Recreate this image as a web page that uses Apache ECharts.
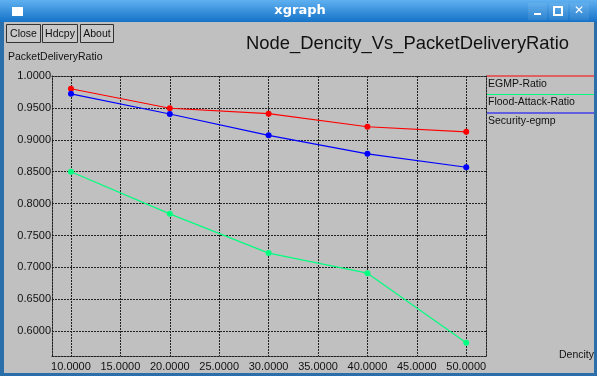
<!DOCTYPE html>
<html>
<head>
<meta charset="utf-8">
<script src="https://cdn.jsdelivr.net/npm/echarts@6/dist/echarts.min.js"></script>
<style>
html,body{margin:0;padding:0;background:#c0c0c0;}
#c{width:597px;height:376px;}
</style>
</head>
<body>
<div id="c"></div>
<script>
// ---- data ----
var densities = [10, 20, 30, 40, 50];
var seriesNames = ["EGMP-Ratio", "Flood-Attack-Ratio", "Security-egmp"];
var egmpRatio = [0.980, 0.9495, 0.941, 0.9205, 0.9125];
var floodAttackRatio = [0.850, 0.784, 0.7225, 0.691, 0.582];
var securityEgmp = [0.972, 0.9405, 0.907, 0.878, 0.857];
var xTicks = [10, 15, 20, 25, 30, 35, 40, 45, 50];
var yTicks = [0.60, 0.65, 0.70, 0.75, 0.80, 0.85, 0.90, 0.95, 1.00];
var chartTitle = "Node_Dencity_Vs_PacketDeliveryRatio";
var yName = "PacketDeliveryRatio";
var xName = "Dencity";
var windowTitle = "xgraph";
var buttons = ["Close", "Hdcpy", "About"];

var colors = ["#ff0000", "#00ff7f", "#0000ff"];
var values = [egmpRatio, floodAttackRatio, securityEgmp];
var FONT = "Liberation Sans";

function pairs(xs, ys) { return xs.map(function (x, i) { return [x, ys[i]]; }); }

var chart = echarts.init(document.getElementById('c'), null, {renderer: 'canvas'});

var dash = {color: '#222', type: [2, 1], width: 1};

var series = values.map(function (v, i) {
  return {
    name: seriesNames[i], type: 'line', data: pairs(densities, v),
    symbol: 'circle', symbolSize: 6, showSymbol: true,
    itemStyle: {color: colors[i]}, lineStyle: {color: colors[i], width: 1.2},
    animation: false, z: 5
  };
});

var graphic = [];
// window chrome
graphic.push({type: 'rect', shape: {x: 0, y: 0, width: 597, height: 22}, z: 100,
  style: {fill: new echarts.graphic.LinearGradient(0, 0, 0, 1, [{offset: 0, color: '#5fb0f0'}, {offset: 1, color: '#1673c8'}])}});
graphic.push({type: 'rect', shape: {x: 0, y: 22, width: 4, height: 354}, z: 100, style: {fill: '#2a6eaa'}});
graphic.push({type: 'rect', shape: {x: 594, y: 22, width: 3, height: 354}, z: 100, style: {fill: '#2a6eaa'}});
graphic.push({type: 'rect', shape: {x: 0, y: 373, width: 597, height: 3}, z: 100, style: {fill: '#2a6eaa'}});
graphic.push({type: 'rect', shape: {x: 12, y: 7, width: 11, height: 9}, z: 101, style: {fill: '#ffffff'}});
graphic.push({type: 'text', x: 300, y: 11, z: 101, style: {text: windowTitle, fill: '#fff', font: 'bold 13px "DejaVu Sans"', textAlign: 'center', textVerticalAlign: 'middle'}});
// window control buttons
graphic.push({type: 'rect', shape: {x: 528, y: 3, width: 19, height: 17}, z: 101, style: {fill: 'rgba(255,255,255,0.08)'}});
graphic.push({type: 'rect', shape: {x: 534, y: 13, width: 7, height: 2}, z: 102, style: {fill: '#fff'}});
graphic.push({type: 'rect', shape: {x: 549, y: 3, width: 19, height: 17}, z: 101, style: {fill: 'rgba(255,255,255,0.08)'}});
graphic.push({type: 'rect', shape: {x: 554, y: 7, width: 8, height: 8}, z: 102, style: {fill: 'none', stroke: '#fff', lineWidth: 2}});
graphic.push({type: 'rect', shape: {x: 570, y: 3, width: 19, height: 17}, z: 101, style: {fill: 'rgba(255,255,255,0.08)'}});
graphic.push({type: 'text', x: 579, y: 11, z: 102, style: {text: '\u2715', fill: '#fff', font: 'bold 12px "DejaVu Sans"', textAlign: 'center', textVerticalAlign: 'middle'}});
// xgraph buttons
var bx = [6, 42, 80], bw = [34, 35, 33];
buttons.forEach(function (b, i) {
  graphic.push({type: 'rect', shape: {x: bx[i] + 0.5, y: 24.5, width: bw[i], height: 18}, z: 50,
    style: {fill: '#c8c8c8', stroke: '#333', lineWidth: 1}});
  graphic.push({type: 'text', x: bx[i] + bw[i] / 2 + 0.5, y: 34, z: 51,
    style: {text: b, fill: '#111', font: '10.5px "' + FONT + '"', textAlign: 'center', textVerticalAlign: 'middle'}});
});
// y name, x name
graphic.push({type: 'text', x: 8, y: 57, z: 50, style: {text: yName, fill: '#111', font: '10.5px "' + FONT + '"', textAlign: 'left', textVerticalAlign: 'middle'}});
graphic.push({type: 'text', x: 594, y: 355, z: 50, style: {text: xName, fill: '#111', font: '10.5px "' + FONT + '"', textAlign: 'right', textVerticalAlign: 'middle'}});
// legend (from series names/colors)
seriesNames.forEach(function (n, i) {
  var ly = 76 + i * 18.5;
  graphic.push({type: 'line', shape: {x1: 487, y1: ly, x2: 594, y2: ly}, z: 50, style: {stroke: colors[i], lineWidth: 1}});
  graphic.push({type: 'text', x: 488, y: ly + 8, z: 50, style: {text: n, fill: '#111', font: '10.5px "' + FONT + '"', textAlign: 'left', textVerticalAlign: 'middle'}});
});

var option = {
  backgroundColor: '#c0c0c0',
  animation: false,
  title: {text: chartTitle, left: 246, top: 35, padding: 0,
    textStyle: {fontFamily: FONT, fontSize: 18.4, fontWeight: 'normal', color: '#111'}},
  grid: {left: 52, right: 111, top: 76, bottom: 20},
  xAxis: [{
    type: 'value', min: 8.08, max: 52.0,
    axisLine: {show: true, onZero: false, lineStyle: dash},
    axisTick: {show: false, customValues: xTicks},
    splitLine: {show: true, lineStyle: dash},
    axisLabel: {customValues: xTicks, formatter: function (v) { return v.toFixed(4); },
      fontFamily: FONT, fontSize: 11, color: '#111', margin: 5}
  }, {
    type: 'value', position: 'top', min: 8.08, max: 52.0,
    axisLine: {show: true, onZero: false, lineStyle: dash},
    axisTick: {show: false}, axisLabel: {show: false}, splitLine: {show: false}
  }],
  yAxis: [{
    type: 'value', min: 0.5612, max: 1.0,
    axisLine: {show: true, onZero: false, lineStyle: dash},
    axisTick: {show: false, customValues: yTicks},
    splitLine: {show: true, lineStyle: dash},
    axisLabel: {customValues: yTicks, formatter: function (v) { return v.toFixed(4); },
      fontFamily: FONT, fontSize: 11, color: '#111', margin: 1}
  }, {
    type: 'value', position: 'right', min: 0.5612, max: 1.0,
    axisLine: {show: true, onZero: false, lineStyle: dash},
    axisTick: {show: false}, axisLabel: {show: false}, splitLine: {show: false}
  }],
  series: series,
  graphic: graphic
};
chart.setOption(option);
</script>
</body>
</html>
